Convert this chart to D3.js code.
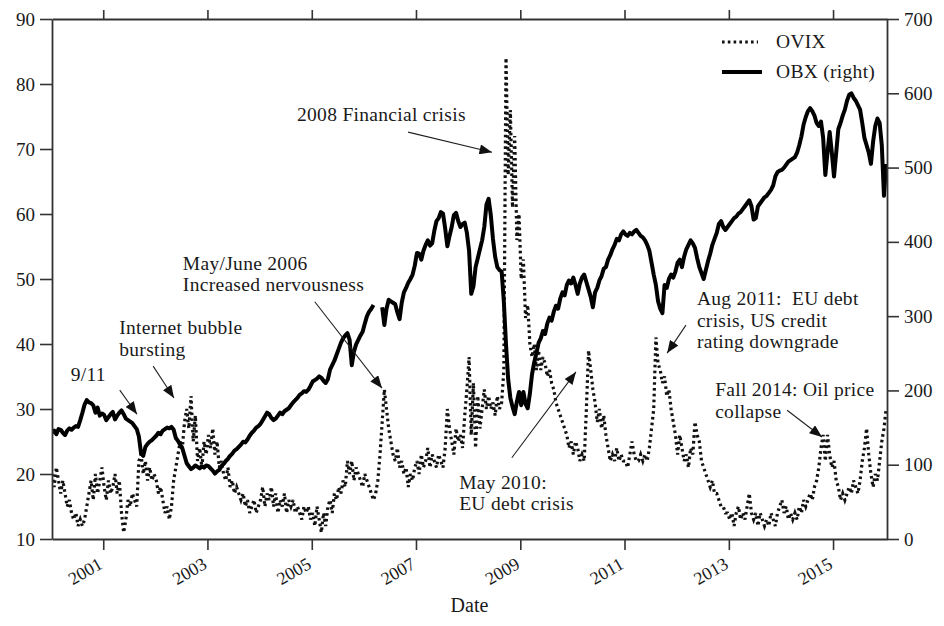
<!DOCTYPE html>
<html>
<head>
<meta charset="utf-8">
<script src="https://cdn.jsdelivr.net/npm/d3@7"></script>
<style>
  body { margin: 0; background: #fff; }
  svg { display: block; }
  text { font-family: "Liberation Serif", "Times New Roman", serif; fill: #1a1a1a; }
</style>
</head>
<body>
<svg id="chart" width="944" height="626"></svg>
<script>
// Semi-monthly observations, starting 8 Jan 2000 (24 per year)
const seriesStart = "2000-01-08";
const stepDays = 365.25 / 24;

// OVIX oil volatility index (left axis)
const ovix = [
  20,18,21,19,17,19,17,15,16,14,13,14,12,13,12,13,15,17,19,16,20,17,19,21, // 2000
  18,16,19,17,18,20,17,19,14,11,13,16,15,17,16,15,22,23,20,22,19,21,19,20, // 2001
  19,17,18,16,14,15,13,15,19,21,23,25,24,28,30,27,32,25,29,22,24,21,25,23, // 2002
  26,24,27,23,25,21,22,20,19,21,18,19,17,18,17,16,17,15,16,14,15,16,14,15, // 2003
  16,18,15,17,16,18,15,17,14,16,15,17,14,16,15,16,14,15,14,13,15,14,15,13, // 2004
  14,12,15,13,11,14,12,15,16,14,17,16,18,17,19,18,22,20,22,19,21,20,19,18, // 2005
  20,19,18,17,16,17,19,23,28,33,30,27,25,23,22,24,21,22,20,21,18,20,19,21, // 2006
  22,20,23,21,22,24,21,23,22,21,23,22,21,24,30,27,25,23,27,25,26,24,29,33, // 2007
  38,26,34,24,32,27,30,33,30,32,30,31,29,32,30,31,36,84,66,76,61,72,56,60, // 2008
  50,53,44,46,40,38,40,36,39,36,38,37,35,36,34,33,31,30,29,28,27,26,24,25, // 2009
  23,25,24,22,23,22,30,39,36,33,31,28,30,27,29,26,24,22,23,22,24,22,23,22, // 2010
  22,21,23,25,23,22,22,23,22,23,22,24,27,30,41,37,36,34,35,32,33,30,28,26, // 2011
  23,26,24,22,23,21,24,23,28,26,25,22,21,20,19,18,19,17,17,16,15,15,14,14, // 2012
  13,14,12,14,15,13,14,13,15,17,14,13,14,12,14,13,12,13,12,14,13,12,14,15, // 2013
  16,14,15,13,14,13,14,13,15,14,16,15,16,17,16,18,19,21,24,26,22,26,23,21, // 2014
  22,19,18,16,17,16,17,18,17,19,18,17,19,22,24,27,23,20,18,20,19,22,25,27, // 2015
  30                                                                       // 2016
];

// OBX stock index (right axis); null marks missing observations
const obx = [
  143,146,141,148,147,143,140,146,149,147,150,152,151,160,170,181,187,184,183,180,170,177,166,169, // 2000
  167,160,164,168,171,161,166,170,173,168,162,160,158,156,152,148,138,115,112,124,128,131,133,136, // 2001
  139,143,141,146,148,150,149,151,147,136,132,127,122,112,102,98,94,96,99,97,95,98,96,99,         // 2002
  98,95,92,88,91,93,98,101,105,108,112,115,119,121,124,127,131,130,134,139,143,146,150,152,       // 2003
  155,160,165,170,168,163,160,162,166,170,168,172,174,176,180,184,187,190,194,196,199,198,201,206, // 2004
  212,214,216,219,217,213,210,215,228,234,240,248,256,264,270,274,277,268,234,252,262,268,274,279, // 2005
  290,300,306,310,315,null,null,null,312,288,310,322,320,318,316,305,296,318,332,338,345,350,356,368, // 2006
  385,384,376,388,396,402,395,398,415,428,432,440,438,418,394,408,420,436,439,428,420,424,426,412, // 2007
  388,330,340,366,378,390,402,420,450,458,436,404,380,366,362,360,320,262,215,190,178,168,185,198, // 2008
  180,198,182,176,196,222,238,250,264,270,280,276,290,298,294,306,314,310,324,332,328,342,348,344, // 2009
  352,342,330,344,352,356,346,336,326,312,332,338,348,354,364,366,376,382,390,396,404,402,410,414, // 2010
  410,408,412,410,414,416,412,408,406,402,396,388,372,356,342,320,310,304,342,338,350,356,352,360, // 2011
  372,376,366,380,390,396,402,398,392,378,366,358,350,362,374,384,396,404,412,424,428,420,416,420, // 2012
  424,428,432,434,438,440,444,448,452,456,448,430,432,448,452,456,460,462,466,470,476,488,494,496, // 2013
  497,500,504,508,510,512,514,520,530,542,558,568,576,580,576,570,560,556,562,540,490,520,548,520, // 2014
  488,520,552,560,570,578,590,598,600,594,590,584,578,560,540,530,520,505,535,556,566,560,530,462, // 2015
  505                                                                                             // 2016
];

const xTickYears = [2001, 2003, 2005, 2007, 2009, 2011, 2013, 2015];
const leftTicks = [10, 20, 30, 40, 50, 60, 70, 80, 90];
const rightTicks = [0, 100, 200, 300, 400, 500, 600, 700];
const legendLabels = ["OVIX", "OBX (right)"];
const xTitle = "Date";

// Event notes: text anchor, arrow tail and arrow head as [years after start, OVIX level]
const notes = [
  { lines: ["9/11"], at: [0.36, 34.3], from: [1.30, 32.9], to: [1.63, 29.2] },
  { lines: ["Internet bubble", "bursting"], at: [1.29, 41.5], from: [1.94, 36.6], to: [2.34, 31.7] },
  { lines: ["May/June 2006", "Increased nervousness"], at: [2.51, 51.4], from: [5.04, 46.5], to: [6.33, 33.2] },
  { lines: ["2008 Financial crisis"], at: [4.70, 74.3], from: [6.83, 72.6], to: [8.44, 69.5] },
  { lines: ["May 2010:", "EU debt crisis"], at: [7.81, 17.7], from: [8.82, 22.5], to: [10.05, 35.7] },
  { lines: ["Aug 2011:\u00a0 EU debt", "crisis, US credit", "rating downgrade"], at: [12.37, 46.0], from: [12.16, 42.9], to: [11.80, 38.6] },
  { lines: ["Fall 2014: Oil price", "collapse"], at: [12.72, 32.0], from: [14.10, 29.8], to: [14.77, 25.7] }
];

// ---- layout ----
const W = 944, H = 626;
const m = { left: 52, right: 57, top: 19, bottom: 87 };
const svg = d3.select("#chart");

const parse = d3.timeParse("%Y-%m-%d");
const t0 = parse(seriesStart);
const dateAt = i => new Date(t0.getTime() + i * stepDays * 864e5);
const dateOfYears = y => dateAt(y * 24);

const x = d3.scaleTime()
  .domain([t0, parse("2016-01-14")])
  .range([m.left, W - m.right]);
const yL = d3.scaleLinear().domain([10, 90]).range([H - m.bottom, m.top]);
const yR = d3.scaleLinear().domain([0, 700]).range([H - m.bottom, m.top]);

svg.append("defs").append("clipPath").attr("id", "plot")
  .append("rect").attr("x", m.left).attr("y", m.top)
  .attr("width", W - m.left - m.right).attr("height", H - m.top - m.bottom);

const marker = svg.select("defs").append("marker")
  .attr("id", "head").attr("viewBox", "0 0 10 8")
  .attr("refX", 10).attr("refY", 4)
  .attr("markerUnits", "userSpaceOnUse")
  .attr("markerWidth", 13).attr("markerHeight", 10)
  .attr("orient", "auto");
marker.append("path").attr("d", "M0,0 L10,4 L0,8 Z").attr("fill", "#111");

// ---- series ----
const lineOvix = d3.line()
  .defined(d => d != null)
  .x((d, i) => x(dateAt(i)))
  .y(d => yL(d));
const lineObx = d3.line()
  .defined(d => d != null)
  .x((d, i) => x(dateAt(i)))
  .y(d => yR(d));

const dotted = "2.6,3.2";
const plot = svg.append("g").attr("clip-path", "url(#plot)");
plot.append("path").datum(ovix)
  .attr("d", lineOvix)
  .attr("fill", "none").attr("stroke", "#111")
  .attr("stroke-width", 3.2).attr("stroke-dasharray", dotted);
plot.append("path").datum(obx)
  .attr("d", lineObx)
  .attr("fill", "none").attr("stroke", "#000")
  .attr("stroke-width", 4).attr("stroke-linejoin", "round");

// ---- axes ----
const axisColor = "#333";
function styleAxis(g) {
  g.select(".domain").attr("stroke", axisColor).attr("stroke-width", 1.8);
  g.selectAll(".tick line").attr("stroke", axisColor).attr("stroke-width", 1.6);
  g.selectAll(".tick text").attr("font-size", 19).attr("fill", "#222")
    .attr("font-family", "'Liberation Serif', serif");
}
const xTicks = xTickYears.map(y => new Date(y, 0, 1));

svg.append("g").attr("transform", `translate(0,${H - m.bottom})`)
  .call(d3.axisBottom(x).tickValues(xTicks).tickSize(11).tickSizeOuter(0).tickFormat(d3.timeFormat("%Y")))
  .call(styleAxis)
  .call(g => g.selectAll(".tick text")
    .attr("font-size", 18)
    .attr("text-anchor", "end").attr("y", 0).attr("dy", "0.35em")
    .attr("transform", "translate(-3,23) rotate(-30)"));

svg.append("g").attr("transform", `translate(0,${m.top})`)
  .call(d3.axisTop(x).tickValues(xTicks).tickSize(9).tickSizeOuter(0).tickFormat(""))
  .call(styleAxis);

svg.append("g").attr("transform", `translate(${m.left},0)`)
  .call(d3.axisLeft(yL).tickValues(leftTicks).tickSize(12).tickPadding(5).tickSizeOuter(0))
  .call(styleAxis);

svg.append("g").attr("transform", `translate(${W - m.right},0)`)
  .call(d3.axisRight(yR).tickValues(rightTicks).tickSize(12).tickPadding(5).tickSizeOuter(0))
  .call(styleAxis);

svg.append("text")
  .attr("x", (m.left + W - m.right) / 2).attr("y", 612)
  .attr("text-anchor", "middle").attr("font-size", 20)
  .text(xTitle);

// ---- legend ----
const leg = svg.append("g").attr("transform", "translate(722,42)");
leg.append("line").attr("x1", 0).attr("x2", 36).attr("y1", 0).attr("y2", 0)
  .attr("stroke", "#111").attr("stroke-width", 3.2).attr("stroke-dasharray", dotted);
leg.append("line").attr("x1", 0).attr("x2", 40).attr("y1", 30).attr("y2", 30)
  .attr("stroke", "#000").attr("stroke-width", 4);
leg.selectAll("text").data(legendLabels).join("text")
  .attr("x", 54).attr("y", (d, i) => i * 30 + 6)
  .attr("font-size", 19.5).attr("letter-spacing", 0.3).text(d => d);

// ---- event notes ----
const noteG = svg.append("g");
notes.forEach(n => {
  const tx = x(dateOfYears(n.at[0])), ty = yL(n.at[1]);
  const t = noteG.append("text").attr("x", tx).attr("y", ty)
    .attr("font-size", 19.5).attr("letter-spacing", 0.3);
  n.lines.forEach((s, k) => t.append("tspan").attr("x", tx).attr("dy", k ? 21.5 : 0).text(s));
  noteG.append("line")
    .attr("x1", x(dateOfYears(n.from[0]))).attr("y1", yL(n.from[1]))
    .attr("x2", x(dateOfYears(n.to[0]))).attr("y2", yL(n.to[1]))
    .attr("stroke", "#222").attr("stroke-width", 1.1)
    .attr("marker-end", "url(#head)");
});
</script>
</body>
</html>
